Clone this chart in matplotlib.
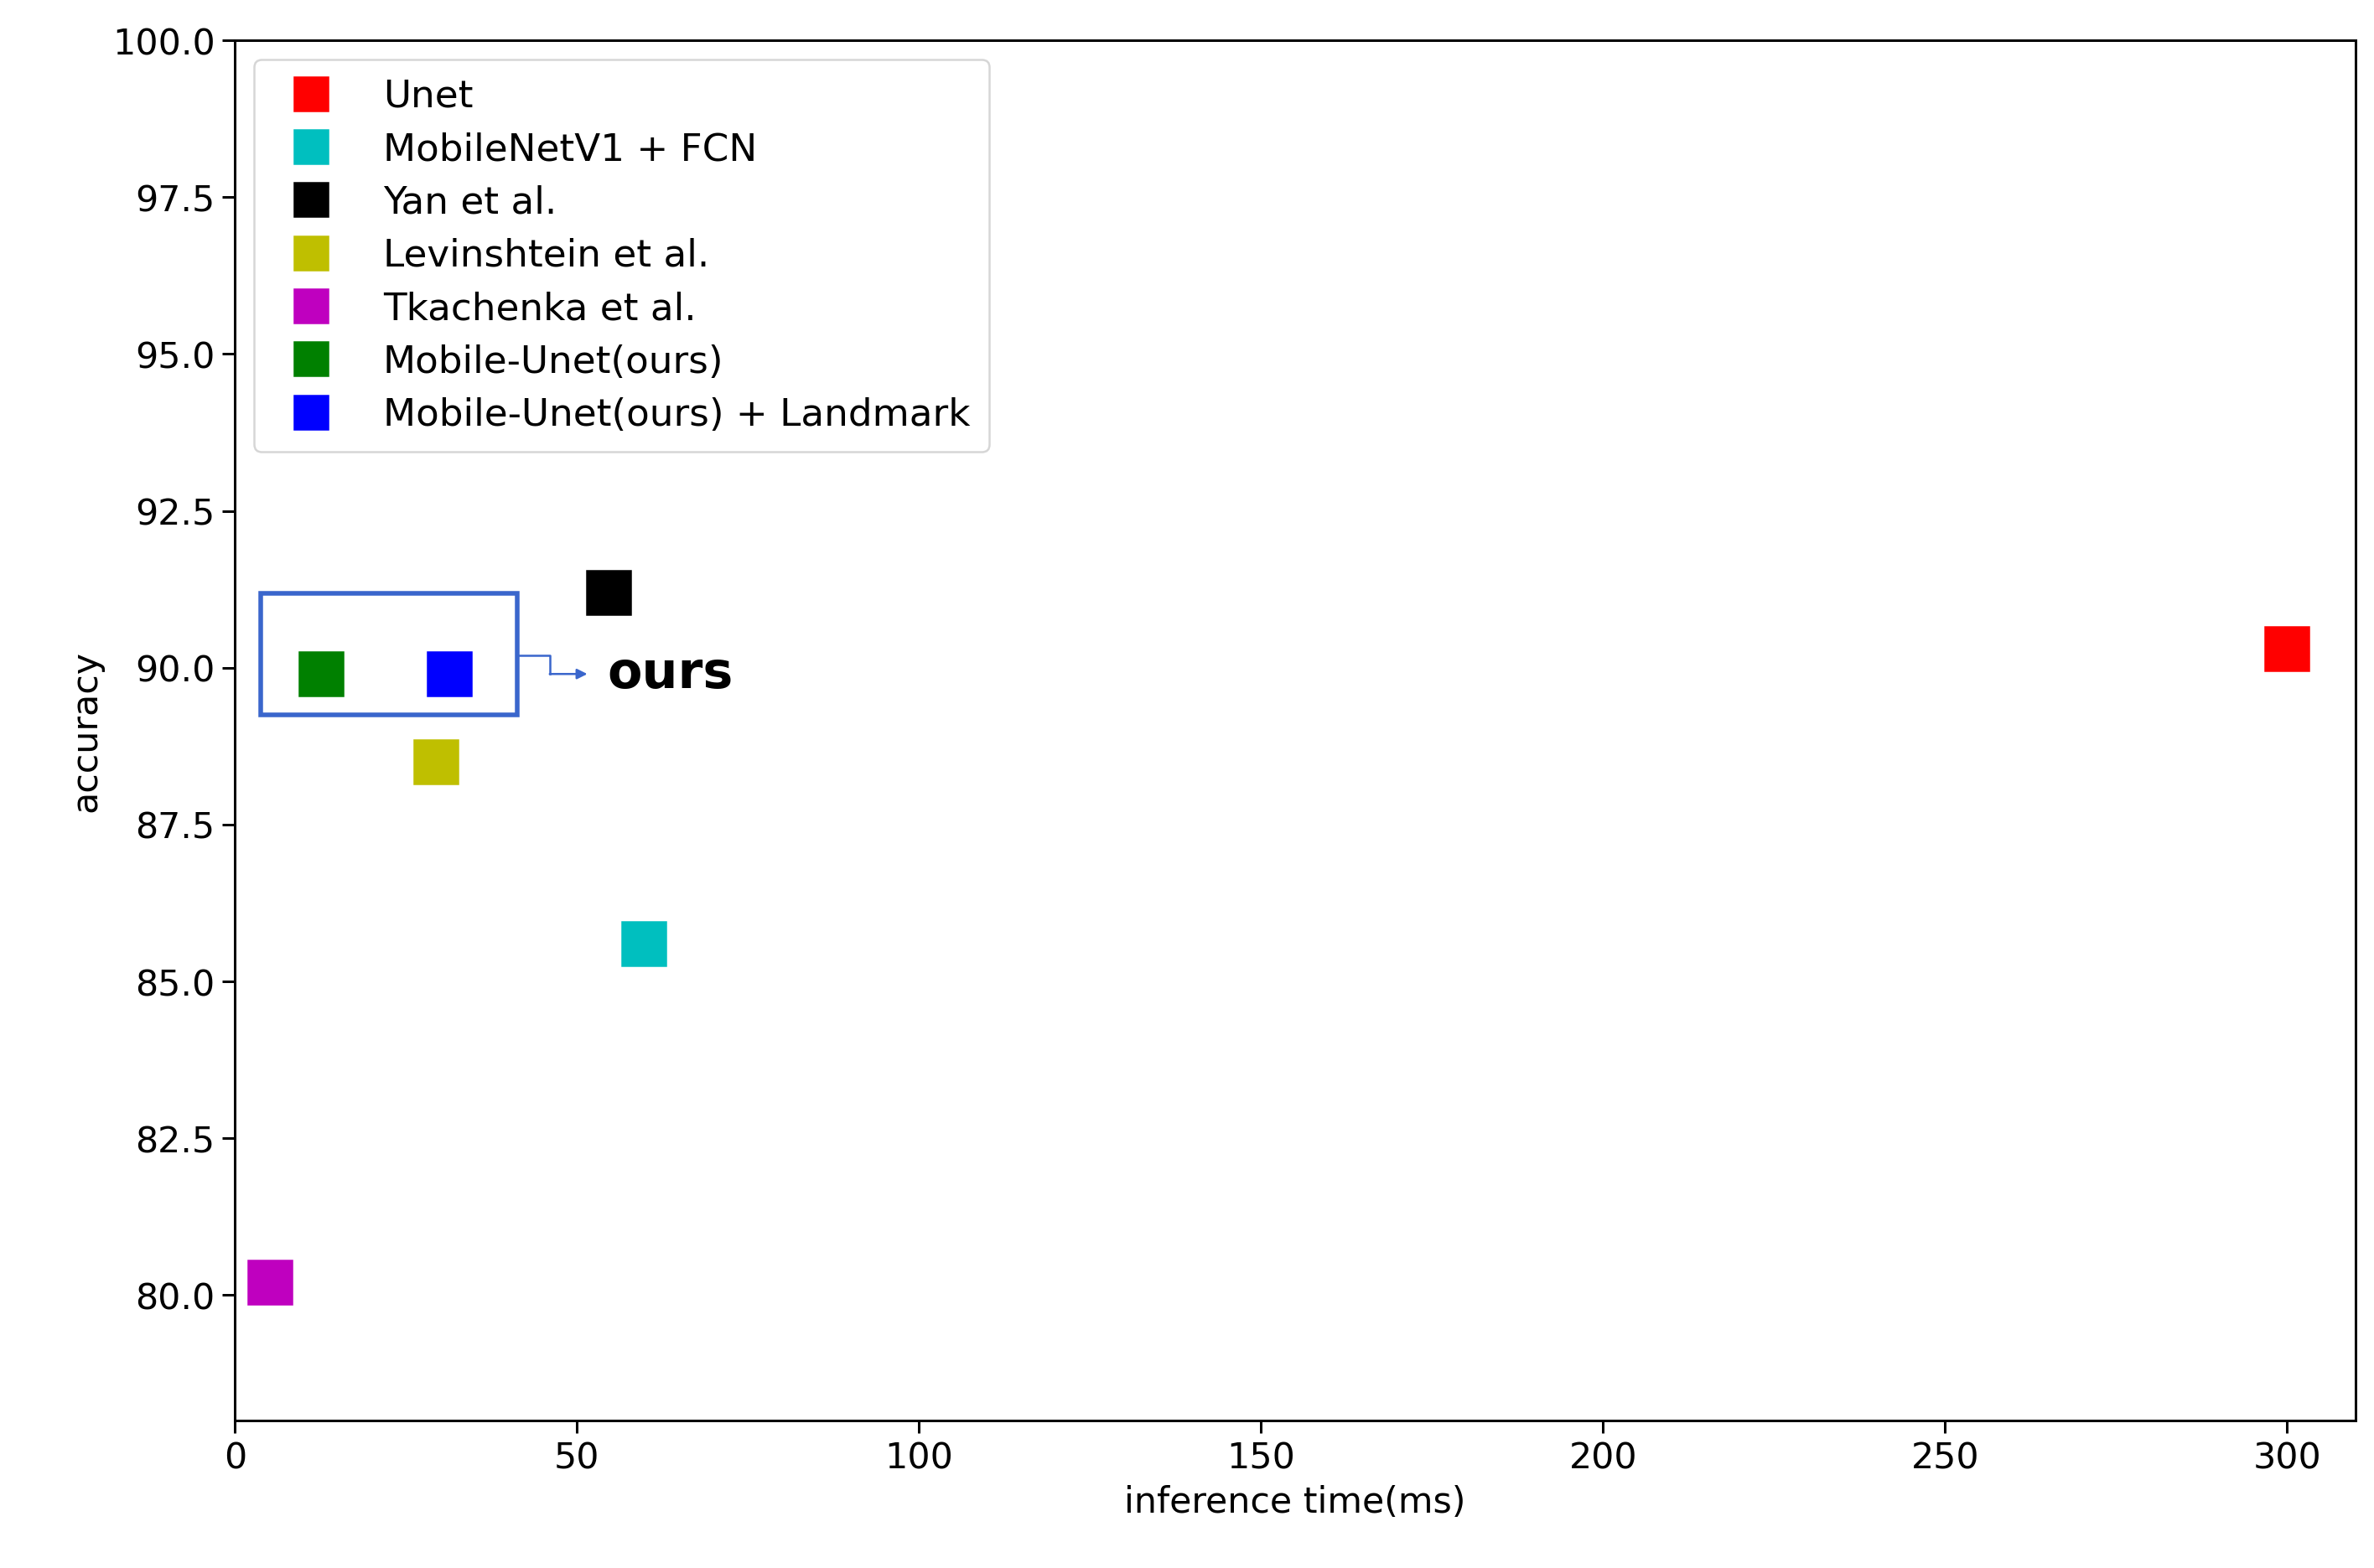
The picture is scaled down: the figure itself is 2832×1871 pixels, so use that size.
import matplotlib

matplotlib.use("Agg")
import matplotlib.pyplot as plt
from matplotlib.patches import Rectangle

# valores
metodos = ["Unet", "MobileNetV1 + FCN", "Yan et al.", "Levinshtein et al.",
           "Tkachenka et al.", "Mobile-Unet(ours)", "Mobile-Unet(ours) + Landmark"]
tempo_ms = [300.0, 59.7, 54.6, 29.3, 5.1, 12.6, 31.3]
acuracia = [90.3, 85.6, 91.2, 88.5, 80.2, 89.9, 89.9]
cores = ["r", "c", "k", "y", "m", "g", "b"]

fig = plt.figure(figsize=(15.65, 10.34), dpi=181)
ax = fig.add_axes([0.099, 0.094, 0.893, 0.88])

for nome, x, y, c in zip(metodos, tempo_ms, acuracia, cores):
    ax.plot(x, y, "s", color=c, markersize=21, label=nome)

# caixa destacando os nossos modelos + seta em cotovelo
azul = "#3a66cc"
ax.add_patch(Rectangle((3.8, 89.25), 37.5, 1.93, fill=False, edgecolor=azul, lw=2.2))
ax.plot([41.3, 46.0, 46.0], [90.2, 90.2, 89.9], color=azul, lw=1)
ax.annotate("", xy=(51.5, 89.9), xytext=(46.0, 89.9),
            arrowprops=dict(arrowstyle="-|>", color=azul, lw=1, shrinkA=0, shrinkB=0))
ax.text(54.4, 89.9, "ours", fontsize=24, fontweight="bold", va="center")

ax.set_xlim(0, 310)
ax.set_ylim(78.0, 100.0)
ax.set_yticks([80.0, 82.5, 85.0, 87.5, 90.0, 92.5, 95.0, 97.5, 100.0])
ax.set_yticklabels([f"{v:.1f}" for v in ax.get_yticks()])
ax.tick_params(labelsize=17, length=6, width=1.2)
ax.set_xlabel("inference time(ms)", fontsize=17)
ax.set_ylabel("accuracy", fontsize=17)
for s in ax.spines.values():
    s.set_linewidth(1.2)
ax.legend(loc="upper left", fontsize=18, markerscale=0.75, labelspacing=0.45,
          handletextpad=0.9, borderpad=0.5)

fig.savefig("out.png", dpi=181)
